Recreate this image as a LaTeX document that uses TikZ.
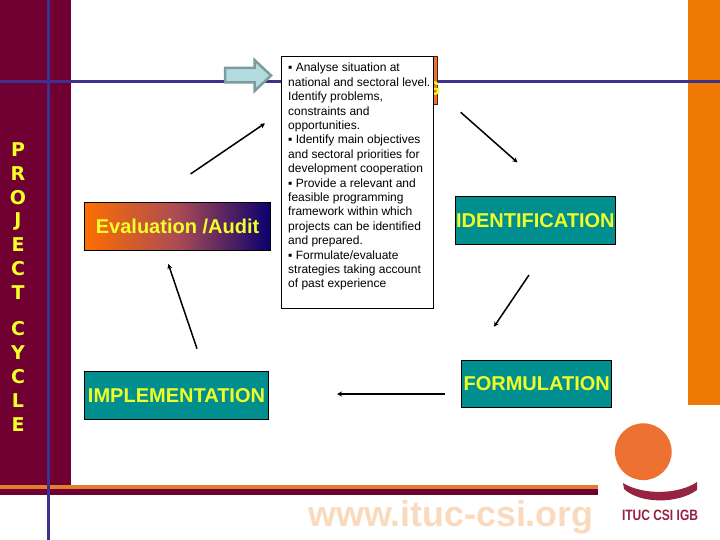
\documentclass[tikz,border=0pt]{standalone}
\usepackage{fontspec}
\setmainfont{Liberation Sans}
\newfontfamily\dv{DejaVu Sans}
\usetikzlibrary{arrows.meta}
\definecolor{maroon}{RGB}{112,0,50}
\definecolor{lineblue}{RGB}{62,48,140}
\definecolor{orangeb}{RGB}{238,122,5}
\definecolor{orangec}{RGB}{237,113,49}
\definecolor{stripc}{RGB}{226,125,50}
\definecolor{tealb}{RGB}{0,142,142}
\definecolor{yel}{RGB}{240,255,40}
\definecolor{navy}{RGB}{10,0,110}
\definecolor{logored}{RGB}{150,35,65}
\definecolor{webc}{RGB}{250,218,190}
\definecolor{arrfill}{RGB}{178,220,222}
\definecolor{arrline}{RGB}{125,155,160}
\definecolor{gradl}{RGB}{255,110,0}
\definecolor{gradm}{RGB}{170,75,85}
\tikzset{
 x=1pt,y=-1pt,
 stage/.style={draw=black,line width=.7pt,fill=tealb,text=yel,font=\fontsize{20}{22}\selectfont\bfseries,inner sep=0pt,anchor=north west,outer sep=0pt},
 flow/.style={draw=black,line width=1.5pt,-{Stealth[length=5pt,width=5pt]}},
 vert/.style={text=yel,font=\fontsize{19}{19}\selectfont\dv\bfseries,inner sep=0pt}
}
\begin{document}
\begin{tikzpicture}
\useasboundingbox (0,0) rectangle (720,540);
\fill[white] (0,0) rectangle (720,540);
\fill[maroon] (0,0) rectangle (71,486);
\fill[orangeb] (688,0) rectangle (720,405);
\fill[stripc] (0,485) rectangle (598,489.300);
\fill[maroon] (0,489.300) rectangle (598,495);
\draw[lineblue,line width=3pt] (48,0) -- (48,540);
\draw[lineblue,line width=3pt] (0,82) -- (720,82);
\node[draw=black!70!orangec,fill=orangec,line width=.7pt,minimum width=156pt,minimum height=48.500pt,anchor=north east,inner sep=0pt,outer sep=0pt] (prog) at (437.500,56) {};
\node[text=yel,font=\fontsize{20}{22}\selectfont\bfseries,inner sep=0pt,anchor=east] (gl) at (441,89) {G};
\node[stage,left color=gradl,right color=navy,middle color=gradm,minimum width=186.500pt,minimum height=47.500pt] (eval) at (84.300,202.500) {Evaluation /Audit};
\node[stage,minimum width=160pt,minimum height=47.500pt] (id) at (455.300,196.700) {IDENTIFICATION};
\node[stage,minimum width=150pt,minimum height=47pt] (form) at (461.700,360.300) {FORMULATION};
\node[stage,minimum width=184.400pt,minimum height=48pt] (impl) at (84.300,371.300) {IMPLEMENTATION};
\node[draw=black,fill=white,line width=.7pt,minimum width=152.300pt,minimum height=252pt,anchor=north west,inner sep=0pt,outer sep=0pt] (call) at (281.200,56) {};
\node[anchor=north west,inner sep=0pt,align=left,font=\fontsize{12}{14.400}\selectfont] (callt) at (288,63) {%
▪ Analyse situation at\\national and sectoral level.\\Identify problems,\\constraints and\\opportunities.\\▪ Identify main objectives\\and sectoral priorities for\\development cooperation\\▪ Provide a relevant and\\feasible programming\\framework within which\\projects can be identified\\and prepared.\\▪ Formulate/evaluate\\strategies taking account\\of past experience};
\coordinate (a1) at (225,68);\coordinate (a2) at (254.500,68);\coordinate (a3) at (254.500,60);\coordinate (a4) at (271,75.500);\coordinate (a5) at (254.500,91);\coordinate (a6) at (254.500,82.500);\coordinate (a7) at (225,82.500);
\draw[arrline,fill=arrfill,line width=2.500pt,miter limit=3] (a1)--(a2)--(a3)--(a4)--(a5)--(a6)--(a7)--cycle;
\coordinate (f1) at (190.500,174);\coordinate (f2) at (265,123.300);
\coordinate (f3) at (460.700,112.300);\coordinate (f4) at (517.500,162.500);
\coordinate (f5) at (529,275);\coordinate (f6) at (494,326.700);
\coordinate (f7) at (445,394);\coordinate (f8) at (337,394);
\coordinate (f9) at (197,348.700);\coordinate (f10) at (168.300,264);
\draw[flow] (f1)--(f2);
\draw[flow] (f3)--(f4);
\draw[flow] (f5)--(f6);
\draw[flow] (f7)--(f8);
\draw[flow] (f9)--(f10);
\node[vert] (v1) at (18,150) {P};
\node[vert] (v2) at (18,174) {R};
\node[vert] (v3) at (18,198) {O};
\node[vert] (v4) at (18,221) {J};
\node[vert] (v5) at (18,245) {E};
\node[vert] (v6) at (18,269) {C};
\node[vert] (v7) at (18,293) {T};
\node[vert] (v8) at (18,329) {C};
\node[vert] (v9) at (18,353) {Y};
\node[vert] (v10) at (18,377) {C};
\node[vert] (v11) at (18,401) {L};
\node[vert] (v12) at (18,425) {E};
\node[text=webc,font=\fontsize{35.800}{38}\selectfont\bfseries,inner sep=0pt] (web) at (451,517) {www.ituc-csi.org};
\fill[orangec] (643.300,451.700) circle (28.400);
\fill[logored] (623,483) .. controls (642,495) and (678,495) .. (697,482) -- (697,490) .. controls (678,504) and (640,504) .. (624,489) -- cycle;
\node[text=logored,font=\fontsize{15}{16}\selectfont\bfseries,inner sep=0pt,xscale=.8,transform shape] (logo) at (660,515.500) {ITUC CSI IGB};
\end{tikzpicture}
\end{document}
